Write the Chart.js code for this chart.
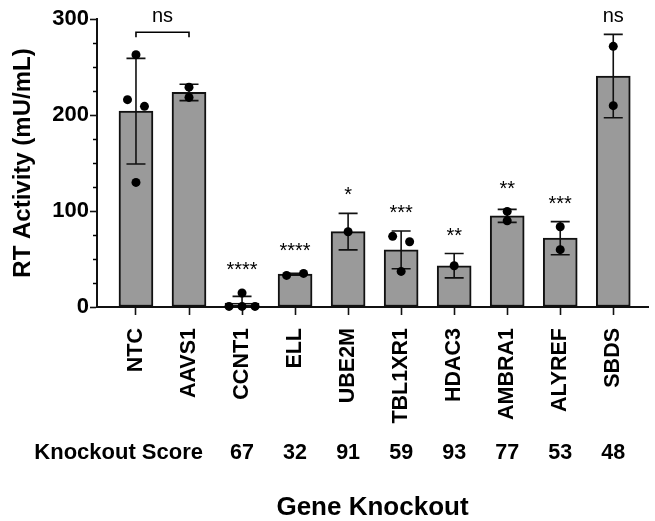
<!DOCTYPE html>
<html><head><meta charset="utf-8">
<script src="https://cdn.jsdelivr.net/npm/chart.js@4/dist/chart.umd.min.js"></script>
<style>html,body{margin:0;padding:0;background:#fff}#wrap{width:655px;height:521px}</style>
</head><body><div id="wrap"><canvas id="c" width="655" height="521"></canvas></div>
<script>
// ---------- data ----------
const categories = ['NTC','AAVS1','CCNT1','ELL','UBE2M','TBL1XR1','HDAC3','AMBRA1','ALYREF','SBDS'];
const means = [204, 223.5, 4.1, 34.2, 78.5, 59.5, 43, 94.9, 71.7, 240.6];
const sds = [55, 8.5, 7, 1, 19, 19.6, 12.7, 6.8, 17.2, 43.4];
const replicates = [
  [262.8, 216, 209, 129.8],
  [229, 218.3],
  [14.6, 0.6, 0.6, 0.6],
  [32.9, 35],
  [78.4],
  [73.6, 68, 37.1],
  [43],
  [99.6, 89.9],
  [83.6, 59.7],
  [271.5, 209.7]
];
const significance = ['', '', '****', '****', '*', '***', '**', '**', '***', 'ns'];
const bracketPair = [0, 1];
const bracketLabel = 'ns';
const knockoutScores = [null, null, 67, 32, 91, 59, 93, 77, 53, 48];
const knockoutLabel = 'Knockout Score';
const yTickLabels = [0, 100, 200, 300];
const yMinorStep = 25;

// ---------- helpers ----------
const FONT = "'Liberation Sans', Arial, Helvetica, sans-serif";
const PT_R = 4.5;

function swarmOffsets(vals) {
  const order = vals.map((v, i) => i).sort((a, b) => vals[a] - vals[b]);
  const offs = new Array(vals.length).fill(0);
  let cluster = [order[0]];
  const flush = (cl) => {
    const members = cl.slice().sort((a, b) => a - b);
    const n = members.length;
    if (n < 2) return;
    const step = n > 2 ? 0.245 : 0.32;
    members.forEach((m, j) => { offs[m] = (j - (n - 1) / 2) * step; });
  };
  for (let k = 1; k < order.length; k++) {
    if (vals[order[k]] - vals[order[k - 1]] < 9.5) cluster.push(order[k]);
    else { flush(cluster); cluster = [order[k]]; }
  }
  flush(cluster);
  return offs;
}

const barData = categories.map((c, i) => ({ x: i, y: means[i] }));
const pointData = [];
replicates.forEach((vals, i) => {
  const offs = swarmOffsets(vals);
  vals.forEach((v, j) => pointData.push({ x: i + offs[j], y: v }));
});

function topPx(chart, i) {
  const ys = chart.scales.y;
  const e = ys.getPixelForValue(means[i] + sds[i]);
  const p = ys.getPixelForValue(Math.max(...replicates[i])) - PT_R;
  return Math.min(e, p);
}

const catTicks = (s) => { s.ticks = categories.map((c, i) => ({ value: i })); };

const errorBars = {
  id: 'errorBars',
  afterDatasetDraw(chart, args) {
    if (args.index !== 0) return;
    const { ctx, chartArea: a } = chart;
    const xs = chart.scales.x, ys = chart.scales.y;
    ctx.save();
    ctx.beginPath();
    ctx.rect(a.left, a.top - 20, a.right - a.left, a.bottom - a.top + 20);
    ctx.clip();
    ctx.strokeStyle = '#111';
    ctx.lineWidth = 1.6;
    categories.forEach((c, i) => {
      const x = xs.getPixelForValue(i);
      const yT = ys.getPixelForValue(means[i] + sds[i]);
      const yB = ys.getPixelForValue(means[i] - sds[i]);
      ctx.beginPath();
      ctx.moveTo(x, yB); ctx.lineTo(x, yT);
      ctx.moveTo(x - 9.5, yT); ctx.lineTo(x + 9.5, yT);
      ctx.moveTo(x - 9.5, yB); ctx.lineTo(x + 9.5, yB);
      ctx.stroke();
    });
    ctx.restore();
  }
};

const annotations = {
  id: 'annotations',
  afterDraw(chart) {
    const { ctx } = chart;
    const xs = chart.scales.x, ys = chart.scales.y, x2 = chart.scales.x2;
    ctx.save();
    ctx.fillStyle = '#000';
    ctx.strokeStyle = '#000';
    // minor y ticks
    ctx.lineWidth = 1.5;
    for (let v = ys.min; v <= ys.max; v += yMinorStep) {
      if (yTickLabels.includes(v)) continue;
      const y = Math.round(ys.getPixelForValue(v)) + 0.5;
      ctx.beginPath(); ctx.moveTo(ys.right - 4, y); ctx.lineTo(ys.right, y); ctx.stroke();
    }
    // significance labels
    ctx.font = '20px ' + FONT;
    ctx.textAlign = 'center';
    ctx.textBaseline = 'alphabetic';
    significance.forEach((s, i) => {
      if (!s) return;
      ctx.fillText(s, xs.getPixelForValue(i), topPx(chart, i) - 12);
    });
    // bracket
    const bx0 = xs.getPixelForValue(bracketPair[0]);
    const bx1 = xs.getPixelForValue(bracketPair[1]);
    const by = Math.min(topPx(chart, bracketPair[0]), topPx(chart, bracketPair[1])) - 18;
    ctx.lineWidth = 1.6;
    ctx.beginPath();
    ctx.moveTo(bx0, by + 5); ctx.lineTo(bx0, by); ctx.lineTo(bx1, by); ctx.lineTo(bx1, by + 5);
    ctx.stroke();
    ctx.fillText(bracketLabel, (bx0 + bx1) / 2, by - 10);
    // knockout score row label
    ctx.font = 'bold 22px ' + FONT;
    ctx.textAlign = 'right';
    ctx.textBaseline = 'middle';
    ctx.fillText(knockoutLabel, xs.getPixelForValue(1) + 14, x2.top + 2 + 21.5 * 1.2 / 2);
    ctx.restore();
  }
};

new Chart(document.getElementById('c'), {
  type: 'bar',
  data: {
    datasets: [
      {
        type: 'bar', data: barData, order: 2,
        backgroundColor: '#9a9a9a', borderColor: '#111', borderWidth: 2,
        borderSkipped: false, barThickness: 34
      },
      {
        type: 'scatter', data: pointData, order: 1,
        pointRadius: PT_R, pointBackgroundColor: '#000', pointBorderWidth: 0,
        clip: false
      }
    ]
  },
  options: {
    responsive: false,
    animation: false,
    events: [],
    layout: { padding: { top: 19, right: 7, left: 0, bottom: 0 } },
    plugins: { legend: { display: false }, tooltip: { enabled: false } },
    scales: {
      x: {
        type: 'linear', position: 'bottom', min: -0.735, max: 9.655, offset: false,
        afterBuildTicks: catTicks,
        afterFit: (s) => { s.height = 131; },
        grid: { display: true, drawOnChartArea: false, offset: false, tickLength: 8, tickColor: '#111', tickWidth: 1.6 },
        border: { display: true, color: '#111', width: 2 },
        ticks: {
          autoSkip: false, minRotation: 90, maxRotation: 90, padding: 13,
          color: '#000', font: { family: FONT, size: 21.5, weight: 'bold' },
          callback: (v, i) => categories[i]
        }
      },
      x2: {
        type: 'linear', position: 'bottom', min: -0.735, max: 9.655, offset: false,
        afterBuildTicks: catTicks,
        afterFit: (s) => { s.height = 83; },
        grid: { display: false, drawTicks: false },
        border: { display: false },
        ticks: {
          autoSkip: false, minRotation: 0, maxRotation: 0, padding: 2,
          color: '#000', font: { family: FONT, size: 21.5, weight: 'bold' },
          callback: (v, i) => knockoutScores[i] == null ? '' : String(knockoutScores[i])
        },
        title: {
          display: true, text: 'Gene Knockout', color: '#000',
          font: { family: FONT, size: 26, weight: 'bold', lineHeight: 1 },
          padding: { top: 0, bottom: 0 }
        }
      },
      y: {
        type: 'linear', position: 'left', min: 0, max: 300,
        afterBuildTicks: (s) => { s.ticks = yTickLabels.map(v => ({ value: v })); },
        afterFit: (s) => { s.width = 97; },
        grid: { display: true, drawOnChartArea: false, tickLength: 7, tickColor: '#111', tickWidth: 1.6 },
        border: { display: true, color: '#111', width: 2 },
        ticks: {
          padding: 1, color: '#000', font: { family: FONT, size: 22, weight: 'bold' },
          callback: (v) => String(v)
        },
        title: {
          display: true, text: 'RT Activity (mU/mL)', color: '#000',
          font: { family: FONT, size: 24, weight: 'bold' },
          padding: { top: 9, bottom: 0 }
        }
      }
    }
  },
  plugins: [errorBars, annotations]
});
</script>
</body></html>
